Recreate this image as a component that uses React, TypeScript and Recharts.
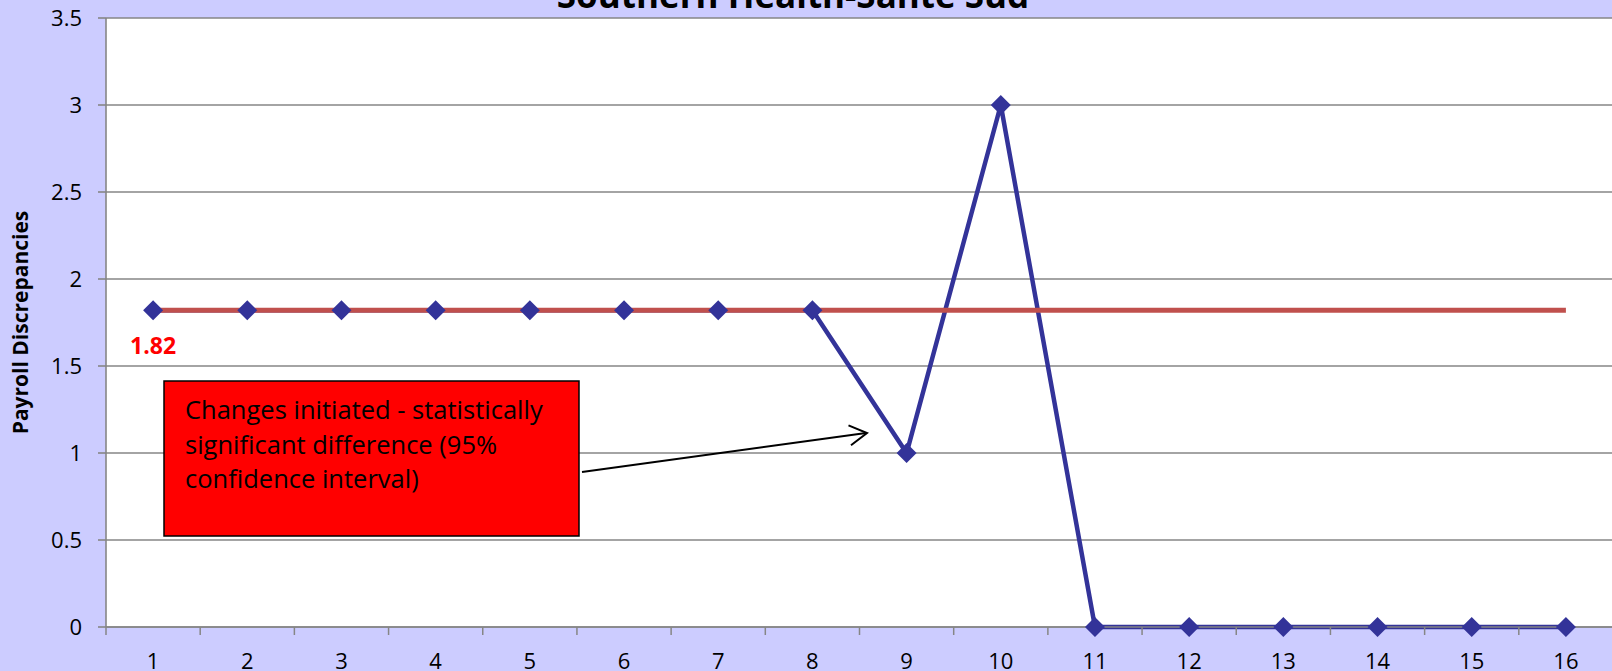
import { LineChart, Line, XAxis, YAxis, CartesianGrid, LabelList } from 'recharts';

// pay periods along the bottom
const PERIODS = [1, 2, 3, 4, 5, 6, 7, 8, 9, 10, 11, 12, 13, 14, 15, 16];
// payroll discrepancies per period
const DISCREPANCIES = [1.82, 1.82, 1.82, 1.82, 1.82, 1.82, 1.82, 1.82, 1, 3, 0, 0, 0, 0, 0, 0];
// baseline average
const MEAN = [1.82, 1.82, 1.82, 1.82, 1.82, 1.82, 1.82, 1.82, 1.82, 1.82, 1.82, 1.82, 1.82, 1.82, 1.82, 1.82];
const Y_TICKS = [0, 0.5, 1, 1.5, 2, 2.5, 3, 3.5];

const TITLE = 'Southern Health-Santé Sud';
const Y_LABEL = 'Payroll Discrepancies';
const NOTE_LINES = ['Changes initiated - statistically', 'significant difference (95%', 'confidence interval)'];

const W = 1620;
const H = 671;
const MARGIN = { top: 18, right: 7, bottom: 0, left: 0 };
const Y_AXIS_W = 106;
const X_AXIS_H = 44;
const PLOT_W = W - MARGIN.left - MARGIN.right - Y_AXIS_W;
const HALF_BAND = PLOT_W / PERIODS.length / 2;
const TICK_SIZE = 8;
const X_TICK_MARGIN = 18;

const FONT = '"Open Sans", sans-serif';
const GRID = '#868686';
const BLUE = '#333399';
const RED = '#C0504D';

const rows = PERIODS.map((p, i) => ({ period: p, value: DISCREPANCIES[i], mean: MEAN[i] }));

const Diamond = ({ cx, cy }: { cx?: number; cy?: number }) => {
  if (cx == null || cy == null) return null;
  const r = 10;
  return <polygon points={`${cx},${cy - r} ${cx + r},${cy} ${cx},${cy + r} ${cx - r},${cy}`} fill={BLUE} />;
};

// label centred in its band, tick mark on the band boundary
const PeriodTick = ({ x, y, payload }: { x?: number; y?: number; payload?: { value: number } }) => {
  if (x == null || y == null || !payload) return null;
  const axisY = y - TICK_SIZE - X_TICK_MARGIN;
  return (
    <g>
      <line x1={x - HALF_BAND} x2={x - HALF_BAND} y1={axisY} y2={axisY + TICK_SIZE} stroke={GRID} strokeWidth={1.5} />
      <text x={x} y={y} dy="0.71em" textAnchor="middle" fontSize={22} fontFamily={FONT} fill="#000">
        {payload.value}
      </text>
    </g>
  );
};

const AxisTitle = ({ viewBox }: { viewBox?: { x: number; y: number; width: number; height: number } }) => {
  const vb = viewBox ?? { x: 0, y: MARGIN.top, width: Y_AXIS_W, height: 609 };
  const x = vb.x + 28;
  const y = vb.y + vb.height / 2;
  return (
    <text x={x} y={y} transform={`rotate(-90 ${x} ${y})`} textAnchor="middle" fontSize={21} fontWeight={700} fontFamily={FONT} fill="#000">
      {Y_LABEL}
    </text>
  );
};

export default function App() {
  return (
    <div style={{ position: 'fixed', left: 0, top: 0, width: 1612, height: 671, overflow: 'hidden', background: '#CCCCFF' }}>
      <LineChart width={W} height={H} data={rows} margin={MARGIN}>
        <CartesianGrid vertical={false} stroke={GRID} strokeWidth={1.6} fill="#FFFFFF" />
        <XAxis
          dataKey="period"
          type="number"
          domain={[0.5, 16.5]}
          ticks={PERIODS}
          interval={0}
          height={X_AXIS_H}
          tickSize={TICK_SIZE}
          tickMargin={X_TICK_MARGIN}
          tickLine={false}
          axisLine={{ stroke: GRID, strokeWidth: 1.6 }}
          tick={<PeriodTick />}
        />
        <YAxis
          type="number"
          domain={[0, 3.5]}
          ticks={Y_TICKS}
          interval={0}
          width={Y_AXIS_W}
          tickSize={TICK_SIZE}
          tickMargin={16}
          tickLine={{ stroke: GRID, strokeWidth: 1.6 }}
          axisLine={{ stroke: GRID, strokeWidth: 1.6 }}
          tick={{ fontSize: 22, fontFamily: FONT, fill: '#000' }}
          label={<AxisTitle />}
        />
        <Line
          type="linear"
          dataKey="value"
          stroke={BLUE}
          strokeWidth={4.5}
          dot={(p: any) => <Diamond key={`d-${p.index}`} cx={p.cx} cy={p.cy} />}
          activeDot={false}
          isAnimationActive={false}
        />
        <Line
          type="linear"
          dataKey="mean"
          stroke={RED}
          strokeWidth={5}
          dot={false}
          activeDot={false}
          isAnimationActive={false}
        >
          <LabelList
            dataKey="mean"
            content={(p: any) =>
              p.index === 0 ? (
                <text x={p.x} y={p.y + 44} textAnchor="middle" fontSize={23} fontWeight={700} fontFamily={FONT} fill="#FF0000">
                  {p.value}
                </text>
              ) : null
            }
          />
        </Line>
      </LineChart>

      <svg width={1612} height={671} style={{ position: 'absolute', left: 0, top: 0, pointerEvents: 'none' }}>
        <text x={793} y={8} textAnchor="middle" fontSize={35} fontWeight={700} fontFamily={FONT} fill="#000">
          {TITLE}
        </text>
        <rect x={164} y={381} width={415} height={155} fill="#FF0000" stroke="#000" strokeWidth={1.5} />
        {NOTE_LINES.map((t, i) => (
          <text key={t} x={185} y={419 + i * 34.5} fontSize={25.5} fontFamily={FONT} fill="#000">
            {t}
          </text>
        ))}
        <line x1={582} y1={472} x2={866} y2={433} stroke="#000" strokeWidth={2} />
        <polyline points="848.5,425.4 867,433 851,445.3" fill="none" stroke="#000" strokeWidth={2} />
      </svg>
    </div>
  );
}
